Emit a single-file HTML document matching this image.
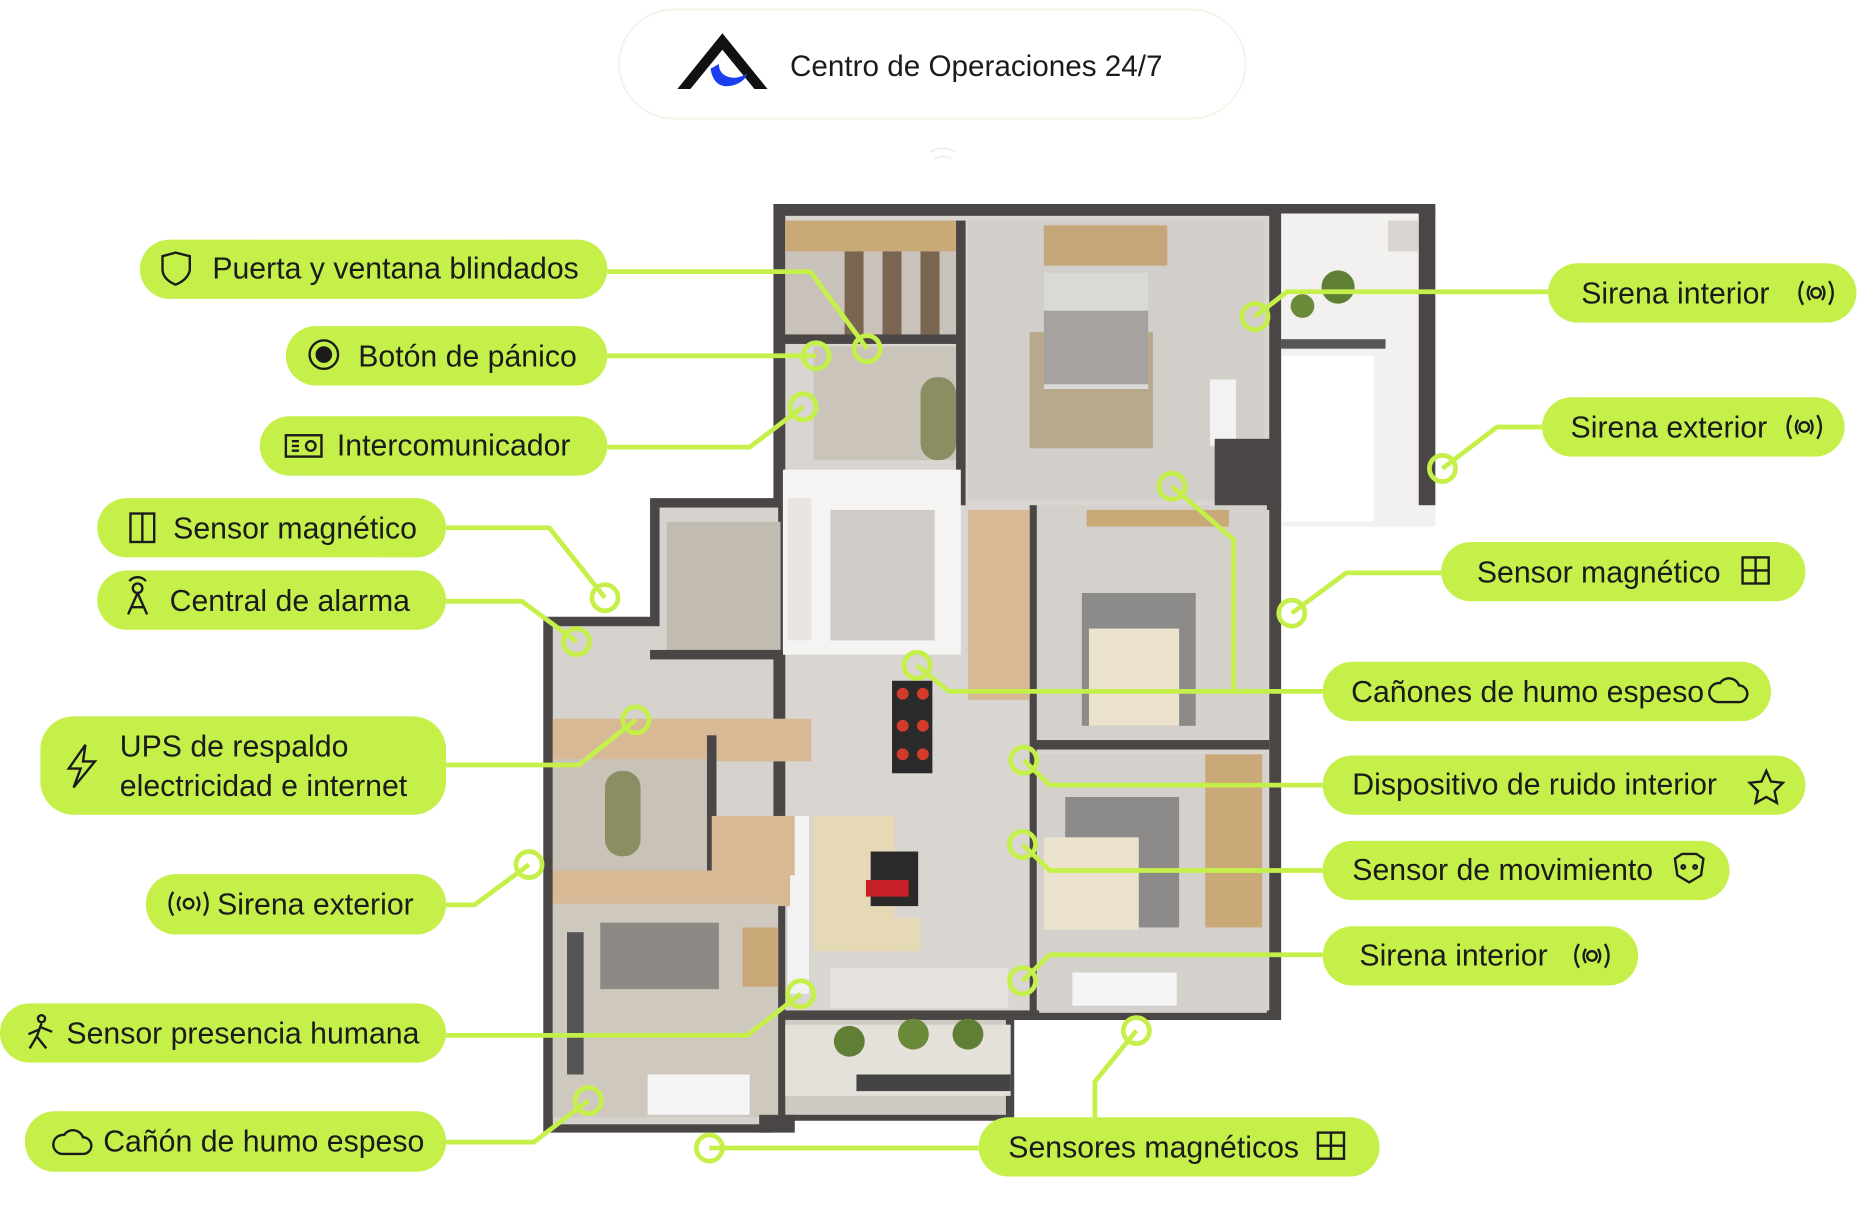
<!DOCTYPE html>
<html><head><meta charset="utf-8"><style>
html,body{margin:0;padding:0;background:#fff;}
svg{display:block;}
text{font-family:"Liberation Sans",sans-serif;fill:#1b1b1b;}
</style></head><body>
<svg width="1860" height="1218" viewBox="0 0 1568 1027" preserveAspectRatio="none" xmlns="http://www.w3.org/2000/svg">
<rect x="522" y="8" width="528" height="92" rx="46" fill="#fff" stroke="#f1f4e6" stroke-width="1.5"/>
<path d="M571 75 L609 28 L647 75 L636 75 L609 42 L582 75 Z" fill="#111"/>
<path d="M599 58 Q602 76 618 72 Q628 69 630 62 Q620 68 612 64 Q606 61 606 54 Z" fill="#1b3ff0"/>
<text x="666" y="64" font-size="25">Centro de Operaciones 24/7</text>
<path d="M784 128 Q795 122 806 128 M788 134 Q795 130 802 134" stroke="#eee" stroke-width="1.5" fill="none"/>

<g>
<rect x="1075" y="176" width="135" height="268" fill="#f3f1ef"/>
<rect x="1078" y="300" width="80" height="140" fill="#fff"/>
<rect x="1196" y="176" width="14" height="250" fill="#4a4645"/>
<rect x="1170" y="186" width="26" height="26" fill="#d8d4d0"/>
<rect x="1080" y="286" width="88" height="8" fill="#555"/>
<circle cx="1128" cy="242" r="14" fill="#5f7f35"/><circle cx="1098" cy="258" r="10" fill="#6a8a3a"/>
<path d="M652 172 L1210 172 L1210 180 L1080 180 L1080 860 L855 860 L855 945 L652 945 L652 955 L458 955 L458 520 L548 520 L548 420 L652 420 Z" fill="#4a4645"/>
<rect x="662" y="182" width="408" height="670" fill="#d9d5d0"/>
<rect x="466" y="528" width="186" height="420" fill="#d6d2cd"/>
<rect x="556" y="428" width="100" height="120" fill="#d6d2cd"/>
<rect x="662" y="860" width="186" height="80" fill="#cfcac4"/>
<rect x="662" y="186" width="146" height="100" fill="#c8c2bb"/>
<rect x="662" y="186" width="146" height="26" fill="#c9a977"/>
<g fill="#7a6650"><rect x="712" y="212" width="16" height="72"/><rect x="744" y="212" width="16" height="72"/><rect x="776" y="212" width="16" height="72"/></g>
<rect x="660" y="282" width="150" height="8" fill="#4a4645"/>
<rect x="686" y="292" width="122" height="96" fill="#cbc4ba"/>
<rect x="776" y="318" width="30" height="70" rx="14" fill="#8a8e62"/>
<rect x="806" y="186" width="8" height="240" fill="#4a4645"/>
<rect x="816" y="186" width="250" height="236" fill="#d2cec9"/>
<rect x="868" y="280" width="104" height="98" fill="#b8a98d"/>
<rect x="880" y="230" width="88" height="98" fill="#d9d9d6"/>
<rect x="880" y="262" width="88" height="62" fill="#a5a2a0"/>
<rect x="880" y="190" width="104" height="34" fill="#c5a678"/>
<rect x="1020" y="320" width="22" height="56" fill="#f2f2f2"/>
<rect x="1024" y="370" width="56" height="60" fill="#4a4645"/>
<rect x="660" y="396" width="150" height="156" fill="#f5f4f2"/>
<rect x="700" y="430" width="88" height="110" fill="#cfcbc6"/>
<rect x="664" y="420" width="20" height="120" fill="#e8e5e1"/>
<rect x="562" y="440" width="96" height="108" fill="#c2bbb2"/>
<rect x="548" y="548" width="112" height="8" fill="#4a4645"/>
<rect x="872" y="426" width="196" height="200" fill="#d4d0cb"/>
<rect x="912" y="500" width="96" height="112" fill="#8c8b8a"/>
<rect x="918" y="530" width="76" height="82" fill="#ece3cf"/>
<rect x="916" y="430" width="120" height="14" fill="#c9a977"/>
<rect x="870" y="624" width="200" height="8" fill="#4a4645"/>
<rect x="868" y="426" width="6" height="430" fill="#4a4645"/>
<rect x="876" y="636" width="192" height="218" fill="#d4d0cb"/>
<rect x="898" y="672" width="96" height="110" fill="#8c8b8a"/>
<rect x="880" y="706" width="80" height="78" fill="#ece3cf"/>
<rect x="1016" y="636" width="48" height="146" fill="#c9a977"/>
<rect x="904" y="820" width="88" height="28" fill="#f5f5f5"/>
<rect x="816" y="430" width="52" height="160" fill="#d8b996"/>
<rect x="752" y="574" width="34" height="78" fill="#2a2a2a"/>
<g fill="#d23a2a"><circle cx="761" cy="585" r="5"/><circle cx="778" cy="585" r="5"/><circle cx="761" cy="612" r="5"/><circle cx="778" cy="612" r="5"/><circle cx="761" cy="636" r="5"/><circle cx="778" cy="636" r="5"/></g>
<rect x="686" y="688" width="68" height="114" fill="#e5d9b6"/>
<rect x="734" y="718" width="40" height="46" fill="#2a2a2a"/>
<rect x="730" y="742" width="36" height="14" fill="#c8202a"/>
<rect x="724" y="774" width="52" height="28" fill="#e5d9b6"/>
<rect x="664" y="688" width="18" height="150" fill="#f2f2f2"/>
<rect x="700" y="816" width="150" height="34" fill="#e6e3de"/>
<rect x="466" y="606" width="218" height="36" fill="#d8b996"/>
<rect x="466" y="640" width="130" height="94" fill="#c9c2b8"/>
<rect x="510" y="650" width="30" height="72" rx="14" fill="#8a8e62"/>
<rect x="596" y="620" width="8" height="120" fill="#4a4645"/>
<rect x="600" y="688" width="70" height="50" fill="#d8b996"/>
<rect x="466" y="734" width="200" height="30" fill="#d8b996"/>
<rect x="466" y="762" width="190" height="180" fill="#cfc8be"/>
<rect x="506" y="778" width="100" height="56" fill="#8d8a86"/>
<rect x="626" y="782" width="30" height="50" fill="#c9a977"/>
<rect x="546" y="906" width="86" height="34" fill="#f5f5f5"/>
<rect x="478" y="786" width="14" height="120" fill="#555"/>
<rect x="662" y="864" width="190" height="60" fill="#e4e0da"/>
<rect x="722" y="906" width="130" height="14" fill="#444"/>
<circle cx="716" cy="878" r="13" fill="#5f7f35"/><circle cx="770" cy="872" r="13" fill="#6a8a3a"/><circle cx="816" cy="872" r="13" fill="#5f7f35"/>
<rect x="640" y="940" width="30" height="15" fill="#4a4645"/>
</g>

<g stroke="#c5f04a" stroke-width="4" fill="none" stroke-linejoin="round">
<polyline points="512,229 683,229 731,294"/>
<polyline points="512,300 688,300"/>
<polyline points="512,377 632,377 677,343"/>
<polyline points="376,445 463,445 510,504"/>
<polyline points="376,507 440,507 486,541"/>
<polyline points="376,645 488,645 536,607"/>
<polyline points="376,763 400,763 446,729"/>
<polyline points="376,873 630,873 675,838"/>
<polyline points="376,963 450,963 496,928"/>
<polyline points="825,968 598,968"/>
<polyline points="923,942 923,912 958,869"/>
<polyline points="1305,246 1085,246 1058,267"/>
<polyline points="1300,360 1262,360 1216,395"/>
<polyline points="1215,483 1135,483 1089,517"/>
<polyline points="1115,583 800,583 773,561"/>
<polyline points="1040,583 1040,455 988,410"/>
<polyline points="1115,662 885,662 863,641"/>
<polyline points="1115,734 885,734 862,712"/>
<polyline points="1115,805 885,805 862,827"/>
</g>
<g stroke="#c5f04a" stroke-width="4" fill="none">
<circle cx="731" cy="294" r="11"/><circle cx="688" cy="300" r="11"/><circle cx="677" cy="343" r="11"/>
<circle cx="510" cy="504" r="11"/><circle cx="486" cy="541" r="11"/><circle cx="536" cy="607" r="11"/>
<circle cx="446" cy="729" r="11"/><circle cx="675" cy="838" r="11"/><circle cx="496" cy="928" r="11"/>
<circle cx="598" cy="968" r="11"/><circle cx="958" cy="869" r="11"/>
<circle cx="1058" cy="267" r="11"/><circle cx="1216" cy="395" r="11"/><circle cx="1089" cy="517" r="11"/>
<circle cx="773" cy="561" r="11"/><circle cx="988" cy="410" r="11"/>
<circle cx="863" cy="641" r="11"/><circle cx="862" cy="712" r="11"/><circle cx="862" cy="827" r="11"/>
</g>

<g fill="#c5f04a">
<rect x="118" y="202" width="394" height="50" rx="25"/>
<rect x="241" y="275" width="271" height="50" rx="25"/>
<rect x="219" y="351" width="293" height="50" rx="25"/>
<rect x="82" y="420" width="294" height="50" rx="25"/>
<rect x="82" y="481" width="294" height="50" rx="25"/>
<rect x="34" y="604" width="342" height="83" rx="28"/>
<rect x="123" y="737" width="253" height="51" rx="25"/>
<rect x="0" y="846" width="376" height="50" rx="25"/>
<rect x="21" y="937" width="355" height="51" rx="25"/>
<rect x="825" y="942" width="338" height="50" rx="25"/>
<rect x="1305" y="222" width="260" height="50" rx="25"/>
<rect x="1300" y="335" width="255" height="50" rx="25"/>
<rect x="1215" y="457" width="307" height="50" rx="25"/>
<rect x="1115" y="558" width="378" height="50" rx="25"/>
<rect x="1115" y="637" width="407" height="50" rx="25"/>
<rect x="1115" y="709" width="343" height="50" rx="25"/>
<rect x="1115" y="781" width="266" height="50" rx="25"/>
</g>
<g font-size="25.5">
<text x="179" y="235">Puerta y ventana blindados</text>
<text x="302" y="309">Botón de pánico</text>
<text x="284" y="384">Intercomunicador</text>
<text x="146" y="454">Sensor magnético</text>
<text x="143" y="515">Central de alarma</text>
<text x="101" y="638">UPS de respaldo</text>
<text x="101" y="671">electricidad e internet</text>
<text x="183" y="771">Sirena exterior</text>
<text x="56" y="880">Sensor presencia humana</text>
<text x="87" y="971">Cañón de humo espeso</text>
<text x="850" y="976">Sensores magnéticos</text>
<text x="1333" y="256">Sirena interior</text>
<text x="1324" y="369">Sirena exterior</text>
<text x="1245" y="491">Sensor magnético</text>
<text x="1139" y="592">Cañones de humo espeso</text>
<text x="1140" y="670">Dispositivo de ruido interior</text>
<text x="1140" y="742">Sensor de movimiento</text>
<text x="1146" y="814">Sirena interior</text>
</g>
<g stroke="#1b1b1b" stroke-width="2" fill="none">
<path d="M137 216 L148 213 L160 216 L160 228 Q158 236 148 240 Q138 236 137 228 Z"/>
<circle cx="273" cy="299" r="12"/><circle cx="273" cy="299" r="6" fill="#1b1b1b"/>
<rect x="241" y="367" width="30" height="18"/><path d="M246 372 h6 M246 376 h6 M246 380 h6"/><circle cx="262" cy="376" r="4"/>
<rect x="110" y="433" width="20" height="24"/><path d="M120 433 v24"/>
<circle cx="116" cy="496" r="4"/><path d="M109 490 a9 9 0 0 1 14 0 M116 500 L108 518 M116 500 L124 518 M110 512 h12"/>
<path d="M72 628 L58 648 L68 648 L62 664 L80 642 L70 642 Z"/>
<path d="M146 752 q-6 10 0 20 M152 756 q-4 6 0 12 M172 752 q6 10 0 20 M166 756 q4 6 0 12"/><circle cx="159" cy="762" r="4"/>
<circle cx="35" cy="859" r="3"/><path d="M35 863 L31 874 L25 884 M31 874 L39 884 M33 868 L24 872 M34 866 L44 870"/>
<path d="M52 973 h18 a7 7 0 0 0 0 -14 a9 9 0 0 0 -16 -2 a7 7 0 0 0 -2 16 Z"/>
<rect x="1111" y="955" width="22" height="22"/><path d="M1122 955 v22 M1111 966 h22"/>
<rect x="1469" y="470" width="22" height="22"/><path d="M1480 470 v22 M1469 481 h22"/>
<path d="M1520 237 q-6 10 0 20 M1526 241 q-4 6 0 12 M1542 237 q6 10 0 20 M1536 241 q4 6 0 12"/><circle cx="1531" cy="247" r="4"/>
<path d="M1510 350 q-6 10 0 20 M1516 354 q-4 6 0 12 M1532 350 q6 10 0 20 M1526 354 q4 6 0 12"/><circle cx="1521" cy="360" r="4"/>
<path d="M1331 796 q-6 10 0 20 M1337 800 q-4 6 0 12 M1353 796 q6 10 0 20 M1347 800 q4 6 0 12"/><circle cx="1342" cy="806" r="4"/>
<path d="M1448 592 h18 a7 7 0 0 0 0 -14 a9 9 0 0 0 -16 -2 a7 7 0 0 0 -2 16 Z"/>
<path d="M1489 650 l4 9 10 1 -7 7 2 10 -9 -5 -9 5 2 -10 -7 -7 10 -1 Z"/>
<path d="M1412 724 l6 -4 h12 l6 4 -2 14 -10 6 -10 -6 Z"/><circle cx="1419" cy="731" r="1.5"/><circle cx="1429" cy="731" r="1.5"/>
</g>
</svg>
</body></html>
